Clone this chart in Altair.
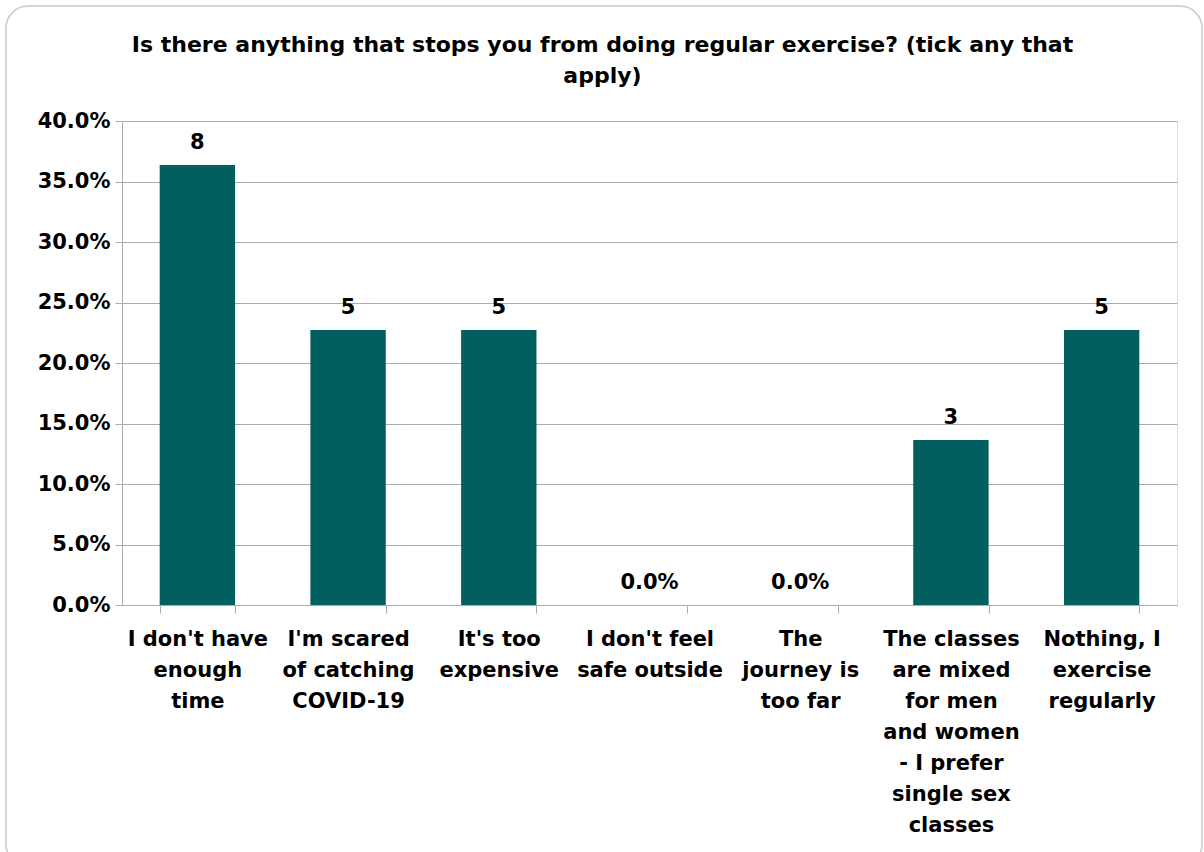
import altair as alt
import pandas as pd

# Survey responses: number of people ticking each reason (22 respondents)
reasons = [
    "I don't have\nenough\ntime",
    "I'm scared\nof catching\nCOVID-19",
    "It's too\nexpensive",
    "I don't feel\nsafe outside",
    "The\njourney is\ntoo far",
    "The classes\nare mixed\nfor men\nand women\n- I prefer\nsingle sex\nclasses",
    "Nothing, I\nexercise\nregularly",
]
counts = [8, 5, 5, 0, 0, 3, 5]
respondents = 22
y_ticks = [0.0, 0.05, 0.10, 0.15, 0.20, 0.25, 0.30, 0.35, 0.40]

df = pd.DataFrame({"reason": reasons, "count": counts})
df["share"] = df["count"] / respondents
df["label"] = [str(c) if c > 0 else f"{s:.1%}" for c, s in zip(df["count"], df["share"])]

FONT = "DejaVu Sans"
BAR = "#025F5F"
GRID = "#ABABAB"
FS = 21

x_enc = alt.X(
    "reason:N",
    sort=reasons,
    scale=alt.Scale(paddingInner=0.5, paddingOuter=0.25),
    axis=alt.Axis(
        title=None,
        labelAngle=0,
        labelExpr="split(datum.label, '\\n')",
        labelFont=FONT,
        labelFontWeight="bold",
        labelFontSize=FS,
        labelColor="#000000",
        labelLineHeight=31,
        labelPadding=15,
        labelBaseline="top",
        labelLimit=0,
        tickBand="extent",
        tickSize=8,
        tickColor=GRID,
        domainColor=GRID,
        grid=False,
    ),
)

y_enc = alt.Y(
    "share:Q",
    scale=alt.Scale(domain=[0, 0.4], nice=False),
    axis=alt.Axis(
        title=None,
        values=y_ticks,
        format=".1%",
        labelFont=FONT,
        labelFontWeight="bold",
        labelFontSize=FS,
        labelColor="#000000",
        labelPadding=5,
        tickSize=7,
        tickColor=GRID,
        domainColor=GRID,
        gridColor=GRID,
        gridWidth=1,
    ),
)

base = alt.Chart(df)

bars = base.mark_bar(color=BAR).encode(x=x_enc, y=y_enc)

values = base.mark_text(
    font=FONT, fontWeight="bold", fontSize=FS, color="#000000",
    baseline="bottom", dy=-12,
).encode(x=alt.X("reason:N", sort=reasons), y="share:Q", text="label:N")

# rounded outer frame of the chart
frame = alt.Chart(pd.DataFrame({"f": [0]})).mark_rect(
    fill=None, stroke="#C8C8C8", strokeWidth=1.5, cornerRadius=22,
).encode(
    x=alt.value(-116), x2=alt.value(1080),
    y=alt.value(-115), y2=alt.value(745),
)

# the frame reaches above the plot, so the title is pulled back down onto it
chart = alt.layer(frame, bars, values).properties(
    width=1055,
    height=484,
    title=alt.TitleParams(
        text=["Is there anything that stops you from doing regular exercise? (tick any that", "apply)"],
        font=FONT,
        fontWeight="bold",
        fontSize=22,
        color="#000000",
        anchor="middle",
        frame="group",
        lineHeight=31,
        offset=-83,
        dx=-47,
    ),
    autosize=alt.AutoSizeParams(type="none"),
    padding={"left": 122, "top": 121, "right": 27, "bottom": 247},
).configure_view(stroke=None).configure(background="#FFFFFF")

chart.save("out.html", embed_options={"renderer": "svg", "actions": False})
